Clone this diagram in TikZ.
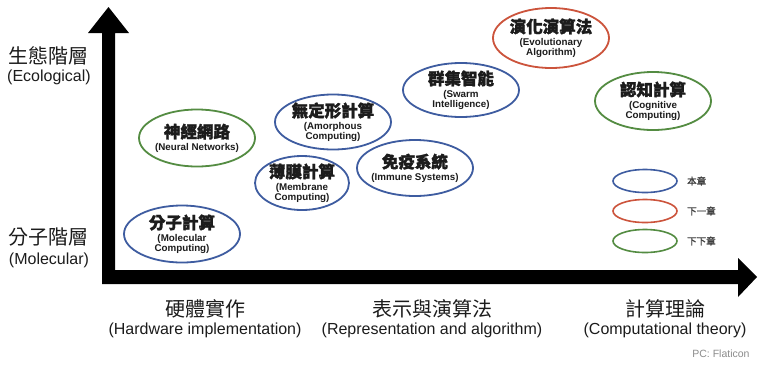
\documentclass[tikz,border=0pt]{standalone}
\usepackage{fontspec}
\setmainfont{Liberation Sans}
\newfontfamily\cjk{Noto Sans CJK TC}
\newfontfamily\cjkb{Noto Sans CJK TC}[FakeBold=1.6]
\usetikzlibrary{shapes.geometric}
\definecolor{cblue}{RGB}{62,92,160}
\definecolor{cred}{RGB}{204,84,60}
\definecolor{cgreen}{RGB}{84,140,66}
\definecolor{ink}{RGB}{28,28,28}
\newcommand\ovcjk[1]{{\cjkb\fontsize{16.5}{18}\selectfont #1}}
\tikzset{
  oval/.style={ellipse, draw, line width=1.8pt, inner sep=0pt, minimum width=116pt, minimum height=56pt},
  blueoval/.style={oval, draw=cblue},
  redoval/.style={oval, draw=cred},
  greenoval/.style={oval, draw=cgreen},
  legoval/.style={ellipse, draw, line width=1.6pt, inner sep=0pt, minimum width=64pt, minimum height=23pt},
  ovtext/.style={align=center, inner sep=0pt, text=ink, font=\fontsize{9.8}{10.3}\selectfont\bfseries},
  axcjk/.style={inner sep=0pt, text=ink, font=\cjk\fontsize{20}{22}\selectfont},
  axeng/.style={inner sep=0pt, text=ink, font=\fontsize{16}{18}\selectfont},
  legtext/.style={inner sep=0pt, anchor=west, text=ink!85, font=\cjkb\fontsize{9.5}{11}\selectfont},
}
\begin{document}
\begin{tikzpicture}[x=1pt, y=-1pt]
\useasboundingbox[fill=white] (0,0) rectangle (758,365);
% axes
\coordinate (vtip) at (108.5,7);
\coordinate (htip) at (757,277);
\fill[black] (102,284) -- (102,33) -- (88,33) -- (vtip) -- (129,33) -- (115,33) -- (115,270)
  -- (738,270) -- (738,258) -- (htip) -- (738,297) -- (738,284) -- cycle;
% axis labels
\node[axcjk] (eco) at (49,56) {生態階層};
\node[axeng] (ecoe) at (49,77) {(Ecological)};
\node[axcjk] (mol) at (49,237) {分子階層};
\node[axeng] (mole) at (49,260) {(Molecular)};
\node[axcjk] (hw) at (205,309) {硬體實作};
\node[axeng] (hwe) at (205,330) {(Hardware implementation)};
\node[axcjk] (rep) at (432,309) {表示與演算法};
\node[axeng] (repe) at (432,330) {(Representation and algorithm)};
\node[axcjk] (ct) at (665,309) {計算理論};
\node[axeng] (cte) at (665,330) {(Computational theory)};
\node[inner sep=0pt, text=black!45, font=\fontsize{10.5}{12}\selectfont] (pc) at (721,354) {PC: Flaticon};
% ovals
\node[blueoval, minimum height=57pt] (o1) at (182,234) {};
\node[ovtext] (t1) at (o1) {\ovcjk{分子計算}\\[2pt](Molecular\\Computing)};
\node[greenoval, minimum height=57pt] (o2) at (197,138) {};
\node[ovtext] (t2) at (o2) {\ovcjk{神經網路}\\[2pt](Neural Networks)};
\node[blueoval, minimum width=94pt, minimum height=54pt] (o3) at (302,183) {};
\node[ovtext] (t3) at (o3) {\ovcjk{薄膜計算}\\[2pt](Membrane\\Computing)};
\node[blueoval, minimum height=55pt] (o4) at (333,122) {};
\node[ovtext] (t4) at (o4) {\ovcjk{無定形計算}\\[2pt](Amorphous\\Computing)};
\node[blueoval] (o5) at (415,168) {};
\node[ovtext] (t5) at (o5) {\ovcjk{免疫系統}\\[2pt](Immune Systems)};
\node[blueoval, minimum height=54pt] (o6) at (461,90) {};
\node[ovtext] (t6) at (o6) {\ovcjk{群集智能}\\[2pt](Swarm\\Intelligence)};
\node[redoval, minimum height=60pt] (o7) at (551,38) {};
\node[ovtext] (t7) at (o7) {\ovcjk{演化演算法}\\[2pt](Evolutionary\\Algorithm)};
\node[greenoval, minimum height=58pt] (o8) at (653,101) {};
\node[ovtext] (t8) at (o8) {\ovcjk{認知計算}\\[2pt](Cognitive\\Computing)};
% legend
\node[legoval, draw=cblue] (l1) at (645,181) {};
\node[legoval, draw=cred] (l2) at (645,211) {};
\node[legoval, draw=cgreen] (l3) at (645,241) {};
\node[legtext] (lt1) at (687,181) {本章};
\node[legtext] (lt2) at (687,211) {下一章};
\node[legtext] (lt3) at (687,241) {下下章};
\end{tikzpicture}
\end{document}
